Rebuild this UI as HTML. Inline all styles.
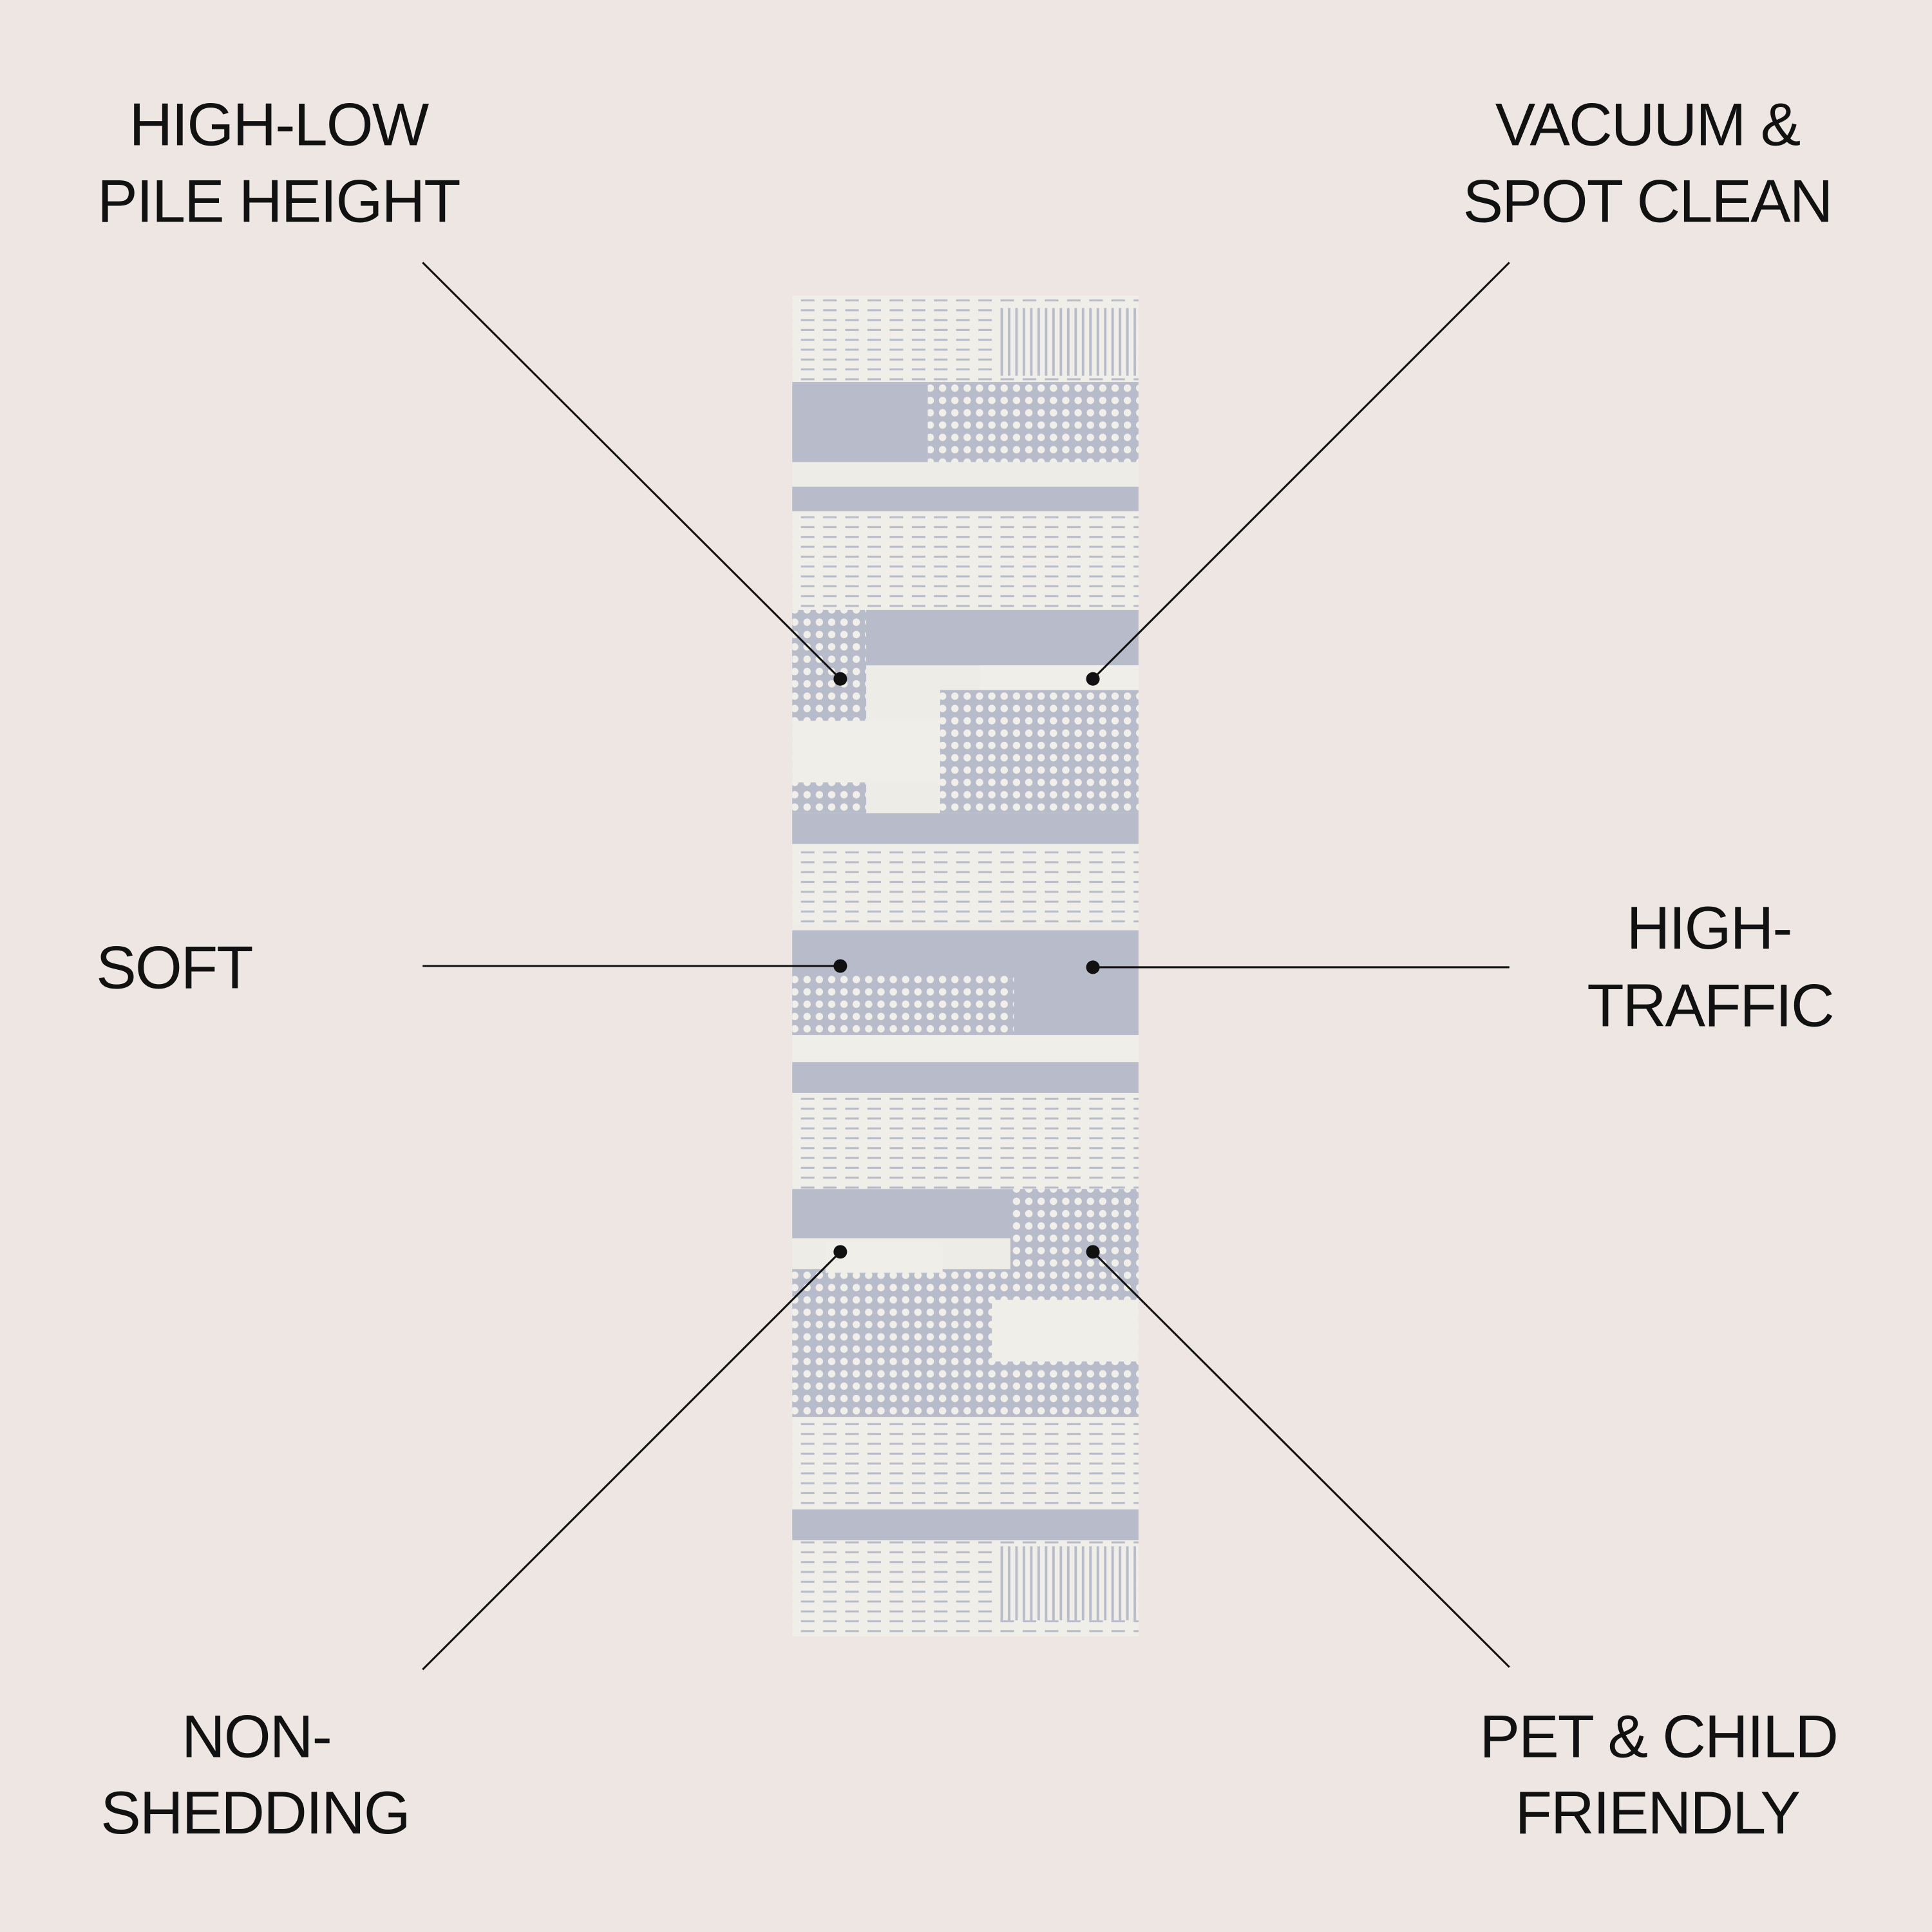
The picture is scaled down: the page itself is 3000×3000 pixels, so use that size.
<!DOCTYPE html>
<html><head><meta charset="utf-8"><style>
html,body{margin:0;padding:0;background:#ede6e3;}
svg{display:block}
text{font-family:"Liberation Sans",sans-serif;fill:#111;font-size:49px;letter-spacing:-1px;text-anchor:middle}
</style></head><body>
<svg width="3000" height="3000" viewBox="0 0 1568 1568" xmlns="http://www.w3.org/2000/svg">
<defs>
<pattern id="dots" width="10" height="10" patternUnits="userSpaceOnUse">
<rect width="10" height="10" fill="#b8bbca"/><circle cx="5" cy="5" r="3" fill="#f1efe9"/></pattern>
<pattern id="lines" width="18" height="8" patternUnits="userSpaceOnUse">
<rect width="18" height="8" fill="#f0eee8"/><rect x="2" y="3" width="11" height="1.6" fill="#b8bbca"/></pattern>
<pattern id="vlines" width="6" height="10" patternUnits="userSpaceOnUse">
<rect width="6" height="10" fill="#f0eee8"/><rect x="2" width="2" height="10" fill="#b8bbca"/></pattern>
</defs>
<rect width="1568" height="1568" fill="#ede6e3"/>
<g>
<rect x="643" y="240" width="281" height="1088" fill="#eeece6"/>
<rect x="643" y="240" width="281" height="70" fill="url(#lines)"/>
<rect x="810" y="250" width="114" height="55" fill="url(#vlines)"/>
<rect x="643" y="310" width="110" height="65" fill="#b8bbca"/>
<rect x="753" y="310" width="171" height="65" fill="url(#dots)"/>
<rect x="643" y="395" width="281" height="20" fill="#b8bbca"/>
<rect x="643" y="415" width="281" height="80" fill="url(#lines)"/>
<rect x="643" y="495" width="281" height="45" fill="#b8bbca"/>
<rect x="643" y="495" width="60" height="165" fill="url(#dots)"/>
<rect x="643" y="585" width="120" height="50" fill="#f0eee8"/>
<rect x="763" y="560" width="161" height="100" fill="url(#dots)"/>
<rect x="795" y="540" width="129" height="20" fill="#f0eee8"/>
<rect x="643" y="660" width="281" height="25" fill="#b8bbca"/>
<rect x="643" y="685" width="281" height="65" fill="url(#lines)"/>
<rect x="643" y="755" width="281" height="85" fill="#b8bbca"/>
<rect x="643" y="790" width="180" height="50" fill="url(#dots)"/>
<rect x="643" y="840" width="281" height="20" fill="#f0eee8"/>
<rect x="643" y="862" width="281" height="25" fill="#b8bbca"/>
<rect x="643" y="887" width="281" height="78" fill="url(#lines)"/>
<rect x="643" y="965" width="281" height="40" fill="#b8bbca"/>
<rect x="820" y="965" width="104" height="185" fill="url(#dots)"/>
<rect x="643" y="1030" width="177" height="120" fill="url(#dots)"/>
<rect x="670" y="1008" width="95" height="25" fill="#f0eee8"/>
<rect x="805" y="1055" width="119" height="50" fill="#f0eee8"/>
<rect x="643" y="1150" width="281" height="75" fill="url(#lines)"/>
<rect x="643" y="1225" width="281" height="25" fill="#b8bbca"/>
<rect x="643" y="1250" width="281" height="78" fill="url(#lines)"/>
<rect x="810" y="1255" width="114" height="60" fill="url(#vlines)"/>
</g>
<g stroke="#111" stroke-width="1.6">
<line x1="343" y1="213" x2="682" y2="551"/>
<line x1="1225" y1="213" x2="887" y2="551"/>
<line x1="343" y1="784" x2="682" y2="784"/>
<line x1="887" y1="785" x2="1225" y2="785"/>
<line x1="682" y1="1016" x2="343" y2="1355"/>
<line x1="887" y1="1016" x2="1225" y2="1353"/>
</g>
<g fill="#111">
<circle cx="682" cy="551" r="5.5"/><circle cx="887" cy="551" r="5.5"/>
<circle cx="682" cy="784" r="5.5"/><circle cx="887" cy="785" r="5.5"/>
<circle cx="682" cy="1016" r="5.5"/><circle cx="887" cy="1016" r="5.5"/>
</g>
<text x="226" y="118">HIGH-LOW</text>
<text x="226" y="180">PILE HEIGHT</text>
<text x="1337" y="118">VACUUM &amp;</text>
<text x="1337" y="180">SPOT CLEAN</text>
<text x="78" y="802" style="text-anchor:start">SOFT</text>
<text x="1387" y="770">HIGH-</text>
<text x="1388" y="833">TRAFFIC</text>
<text x="208" y="1426">NON-</text>
<text x="207" y="1488">SHEDDING</text>
<text x="1346" y="1426">PET &amp; CHILD</text>
<text x="1345" y="1488">FRIENDLY</text>
</svg>
</body></html>
